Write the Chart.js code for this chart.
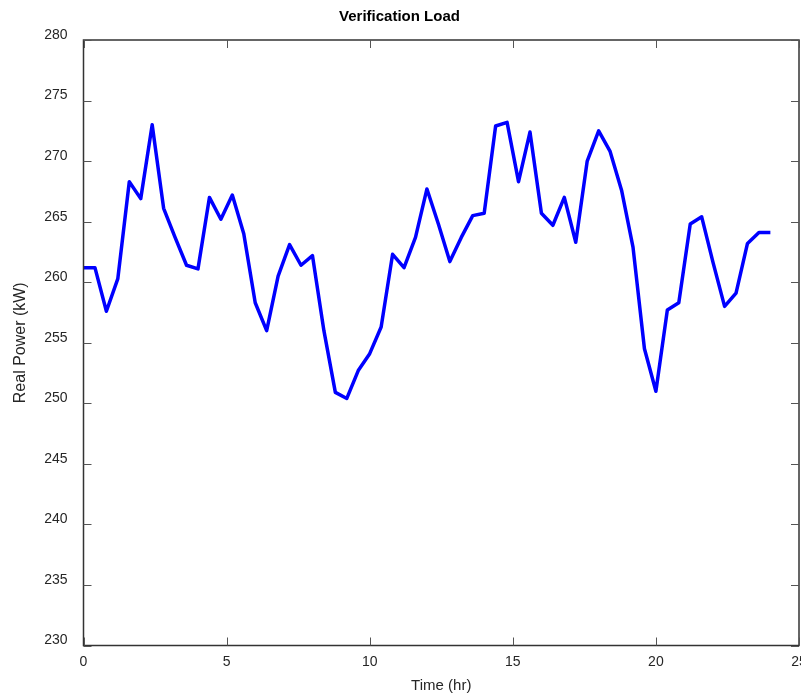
<!DOCTYPE html>
<html>
<head>
<meta charset="utf-8">
<title>Verification Load</title>
<script src="https://cdn.jsdelivr.net/npm/chart.js@4/dist/chart.umd.min.js"></script>
<style>
  html, body { margin: 0; padding: 0; background: #fff; }
  #wrap { width: 801px; height: 696px; }
</style>
</head>
<body>
<div id="wrap"><canvas id="loadChart" width="801" height="696"></canvas></div>
<script>
// Verification load profile

const hours = [
  0, 0.4, 0.8, 1.2, 1.6, 2.0, 2.4, 2.8, 3.2, 3.6,
  4.0, 4.4, 4.8, 5.2, 5.6, 6.0, 6.4, 6.8, 7.2, 7.6,
  8.0, 8.4, 8.8, 9.2, 9.6, 10.0, 10.4, 10.8, 11.2, 11.6,
  12.0, 12.4, 12.8, 13.2, 13.6, 14.0, 14.4, 14.8, 15.2, 15.6,
  16.0, 16.4, 16.8, 17.2, 17.6, 18.0, 18.4, 18.8, 19.2, 19.6,
  20.0, 20.4, 20.8, 21.2, 21.6, 22.0, 22.4, 22.8, 23.2, 23.6,
  24.0
];

const realPowerKW = [
  261.2, 261.2, 257.6, 260.3, 268.3, 266.9, 273.0, 266.1, 263.7, 261.4,
  261.1, 267.0, 265.2, 267.2, 264.0, 258.3, 256.0, 260.5, 263.1, 261.4,
  262.2, 256.0, 250.9, 250.4, 252.7, 254.1, 256.3, 262.3, 261.2, 263.7,
  267.7, 264.8, 261.7, 263.7, 265.5, 265.7, 272.9, 273.2, 268.3, 272.4,
  265.7, 264.7, 267.0, 263.3, 270.0, 272.5, 270.8, 267.6, 262.9, 254.5,
  251.0, 257.7, 258.3, 264.8, 265.4, 261.6, 258.0, 259.1, 263.2, 264.1,
  264.1
];

const xTicks = [0, 5, 10, 15, 20, 25];
const yTicks = [230, 235, 240, 245, 250, 255, 260, 265, 270, 275, 280];

const FONT = "'Liberation Sans', Arial, Helvetica, sans-serif";
const TEXT = '#262626';

// matlab-style box with inward ticks on all four sides
const boxAxes = {
  id: 'boxAxes',
  afterDraw(chart) {
    const { ctx, chartArea: a, scales: { x, y } } = chart;
    const len = 8;
    ctx.save();
    ctx.strokeStyle = '#333';
    ctx.lineWidth = 1.5;
    ctx.strokeRect(a.left, a.top, a.right - a.left, a.bottom - a.top);
    ctx.lineWidth = 1;
    ctx.strokeStyle = '#555';
    ctx.beginPath();
    xTicks.forEach(v => {
      const px = Math.round(x.getPixelForValue(v)) + 0.5;
      ctx.moveTo(px, a.bottom); ctx.lineTo(px, a.bottom - len);
      ctx.moveTo(px, a.top); ctx.lineTo(px, a.top + len);
    });
    yTicks.forEach(v => {
      const py = Math.round(y.getPixelForValue(v)) + 0.5;
      ctx.moveTo(a.left, py); ctx.lineTo(a.left + len, py);
      ctx.moveTo(a.right, py); ctx.lineTo(a.right - len, py);
    });
    ctx.stroke();
    ctx.restore();
  }
};

new Chart(document.getElementById('loadChart'), {
  type: 'line',
  data: {
    datasets: [{
      label: 'Load',
      data: hours.map((h, i) => ({ x: h, y: realPowerKW[i] })),
      borderColor: '#0000ff',
      borderWidth: 3.5,
      borderJoinStyle: 'round',
      pointRadius: 0,
      tension: 0,
      fill: false,
    }],
  },
  options: {
    responsive: false,
    animation: false,
    layout: { padding: { top: 0, right: 2, bottom: 0, left: 0 } },
    plugins: {
      legend: { display: false },
      tooltip: { enabled: false },
      title: {
        display: true,
        text: 'Verification Load',
        color: '#000',
        font: { family: FONT, size: 15, weight: 'bold' },
        padding: { top: 8, bottom: 14 },
      },
    },
    scales: {
      x: {
        type: 'linear',
        min: 0, max: 25,
        afterBuildTicks: s => { s.ticks = xTicks.map(v => ({ value: v })); },
        afterFit: s => { s.height = 50.5; s.paddingLeft = 0; s.paddingRight = 0; },
        grid: { display: false, drawTicks: false },
        border: { display: false },
        ticks: { color: TEXT, font: { family: FONT, size: 14 }, padding: 8, maxRotation: 0 },
        title: {
          display: true, text: 'Time (hr)', color: TEXT,
          font: { family: FONT, size: 15 }, padding: { top: 0, bottom: 1 },
        },
      },
      y: {
        type: 'linear',
        min: 230, max: 280,
        afterBuildTicks: s => { s.ticks = yTicks.map(v => ({ value: v })); },
        afterFit: s => { s.width = 83.5; s.paddingTop = 0; s.paddingBottom = 0; },
        grid: { display: false, drawTicks: false },
        border: { display: false },
        ticks: { color: TEXT, font: { family: FONT, size: 14 }, padding: 16, labelOffset: -5 },
        title: {
          display: true, text: 'Real Power (kW)', color: TEXT,
          font: { family: FONT, size: 16 }, padding: { top: 11, bottom: 0 },
        },
      },
    },
  },
  plugins: [boxAxes],
});
</script>
</body>
</html>
